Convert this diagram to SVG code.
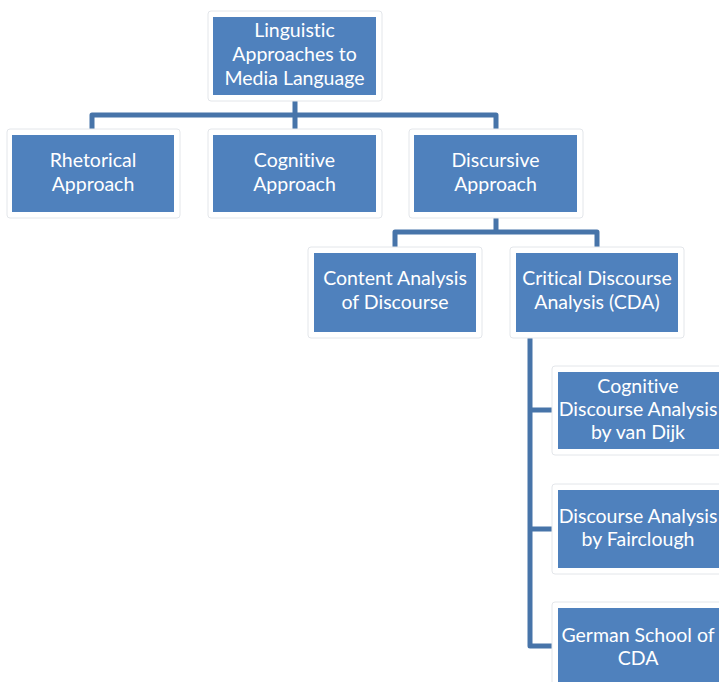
<svg xmlns="http://www.w3.org/2000/svg" width="719" height="682" viewBox="0 0 719 682">
  <style>
    .frame { fill: #ffffff; stroke: #e3e6ea; stroke-width: 1; }
    .box { fill: #4f81bd; }
    .lbl { fill: #ffffff; font-family: Lato, "Open Sans", "Liberation Sans", sans-serif; font-size: 19.5px; text-anchor: middle; font-variant-ligatures: none; }
    .conn { fill: none; stroke: #4774a9; stroke-width: 5; stroke-linejoin: round; stroke-linecap: butt; }
  </style>
  <rect width="719" height="682" fill="#ffffff"/>

  <g id="connectors">
    <path class="conn" d="M92,129 V115 H496 V129 M295,101 V129"/>
    <path class="conn" d="M395,247 V232 H597 V247 M496,218 V232"/>
    <path class="conn" d="M530,338 V646 H553 M530,410 H553 M530,529 H553"/>
  </g>

  <g id="root">
    <rect class="frame" x="208" y="11" width="174" height="90" rx="3"/>
    <rect class="box" x="213" y="17" width="163" height="78"/>
    <text class="lbl" x="294.5" y="37">Linguistic</text>
    <text class="lbl" x="294.5" y="61">Approaches to</text>
    <text class="lbl" x="294.5" y="85">Media Language</text>
  </g>

  <g id="rhetorical">
    <rect class="frame" x="7" y="129" width="173" height="89" rx="3"/>
    <rect class="box" x="12" y="135" width="162" height="77"/>
    <text class="lbl" x="93" y="167">Rhetorical</text>
    <text class="lbl" x="93" y="191">Approach</text>
  </g>

  <g id="cognitive">
    <rect class="frame" x="208" y="129" width="174" height="89" rx="3"/>
    <rect class="box" x="213" y="135" width="163" height="77"/>
    <text class="lbl" x="294.5" y="167">Cognitive</text>
    <text class="lbl" x="294.5" y="191">Approach</text>
  </g>

  <g id="discursive">
    <rect class="frame" x="409" y="129" width="174" height="89" rx="3"/>
    <rect class="box" x="414" y="135" width="163" height="77"/>
    <text class="lbl" x="495.5" y="167">Discursive</text>
    <text class="lbl" x="495.5" y="191">Approach</text>
  </g>

  <g id="content-analysis">
    <rect class="frame" x="308" y="247" width="174" height="91" rx="3"/>
    <rect class="box" x="314" y="253" width="162" height="79"/>
    <text class="lbl" x="395" y="285">Content Analysis</text>
    <text class="lbl" x="395" y="309">of Discourse</text>
  </g>

  <g id="cda">
    <rect class="frame" x="510" y="247" width="174" height="91" rx="3"/>
    <rect class="box" x="516" y="253" width="162" height="79"/>
    <text class="lbl" x="597" y="285">Critical Discourse</text>
    <text class="lbl" x="597" y="309">Analysis (CDA)</text>
  </g>

  <g id="van-dijk">
    <rect class="frame" x="552" y="366" width="174" height="89" rx="3"/>
    <rect class="box" x="558" y="372" width="162" height="77"/>
    <text class="lbl" x="638" y="393">Cognitive</text>
    <text class="lbl" x="638" y="416">Discourse Analysis</text>
    <text class="lbl" x="638" y="439">by van Dijk</text>
  </g>

  <g id="fairclough">
    <rect class="frame" x="552" y="484" width="174" height="90" rx="3"/>
    <rect class="box" x="558" y="490" width="162" height="78"/>
    <text class="lbl" x="638" y="523">Discourse Analysis</text>
    <text class="lbl" x="638" y="546">by Fairclough</text>
  </g>

  <g id="german-school">
    <rect class="frame" x="552" y="602" width="174" height="90" rx="3"/>
    <rect class="box" x="558" y="608" width="162" height="80"/>
    <text class="lbl" x="638" y="642">German School of</text>
    <text class="lbl" x="638" y="665">CDA</text>
  </g>
</svg>
